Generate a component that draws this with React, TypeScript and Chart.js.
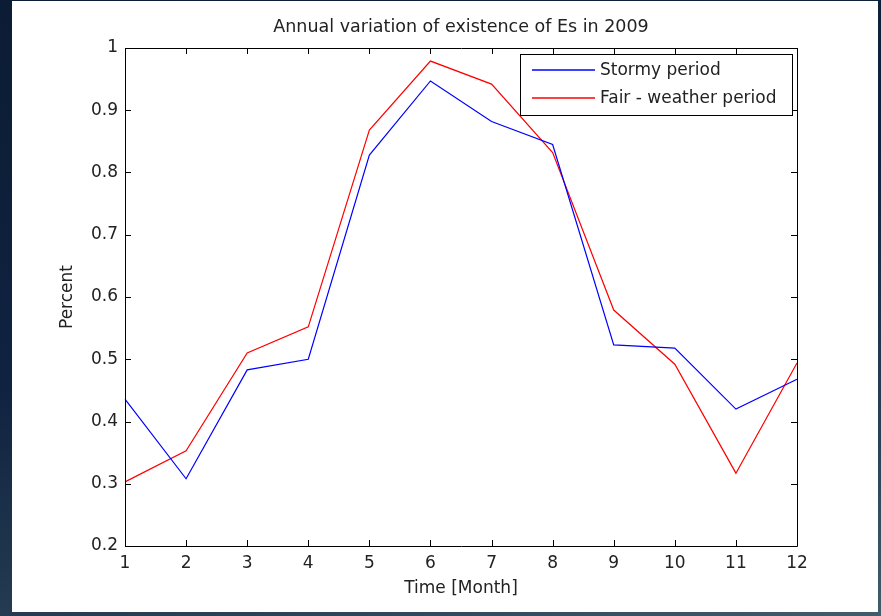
import React, { useEffect, useRef } from "react";
import { Chart, registerables } from "chart.js";

Chart.register(...registerables);

const chartTitle = "Annual variation of existence of Es in 2009";
const xTitle = "Time [Month]";
const yTitle = "Percent";
const months = ["1", "2", "3", "4", "5", "6", "7", "8", "9", "10", "11", "12"];
const stormyLabel = "Stormy period";
const fairLabel = "Fair - weather period";
const stormy = [0.436, 0.308, 0.483, 0.5, 0.828, 0.947, 0.882, 0.845, 0.523, 0.518, 0.42, 0.468];
const fair = [0.303, 0.353, 0.51, 0.552, 0.868, 0.979, 0.942, 0.832, 0.579, 0.492, 0.317, 0.494];
const yMin = 0.2;
const yMax = 1;
const yStep = 0.1;

const STORMY_COLOR = "#0000ff";
const FAIR_COLOR = "#ff0000";
const legendItems = [
  { label: stormyLabel, color: STORMY_COLOR },
  { label: fairLabel, color: FAIR_COLOR },
];

const FONT = "'DejaVu Sans', sans-serif";
const TEXT = "#222";

const framePlugin = {
  id: "matlabFrame",
  afterDatasetsDraw(chart: any) {
    const { ctx, chartArea } = chart;
    const { left, right, top, bottom } = chartArea;
    const xs = chart.scales.x;
    const ys = chart.scales.y;
    const tl = 6;
    ctx.save();
    ctx.strokeStyle = "#000";
    ctx.lineWidth = 1;
    ctx.beginPath();
    ctx.rect(Math.round(left) + 0.5, Math.round(top) + 0.5, Math.round(right - left), Math.round(bottom - top));
    xs.ticks.forEach((t: any, i: number) => {
      const px = Math.round(xs.getPixelForTick(i)) + 0.5;
      ctx.moveTo(px, bottom);
      ctx.lineTo(px, bottom - tl);
      ctx.moveTo(px, top);
      ctx.lineTo(px, top + tl);
    });
    ys.ticks.forEach((t: any) => {
      const py = Math.round(ys.getPixelForValue(t.value)) + 0.5;
      ctx.moveTo(left, py);
      ctx.lineTo(left + tl, py);
      ctx.moveTo(right, py);
      ctx.lineTo(right - tl, py);
    });
    ctx.stroke();

    // legend box (MATLAB style, inside the axes, top right)
    const bw = 272;
    const bh = 61;
    const bx = Math.round(right) - bw - 5;
    const by = Math.round(top) + 6;
    ctx.fillStyle = "#fff";
    ctx.fillRect(bx, by, bw, bh);
    ctx.strokeStyle = "#000";
    ctx.lineWidth = 1;
    ctx.strokeRect(bx + 0.5, by + 0.5, bw, bh);
    ctx.font = "17px " + FONT;
    ctx.textBaseline = "middle";
    ctx.textAlign = "left";
    legendItems.forEach((item, i) => {
      const cy = Math.round(by + 16 + i * 28);
      ctx.beginPath();
      ctx.strokeStyle = item.color;
      ctx.lineWidth = 1.4;
      ctx.moveTo(bx + 12, cy);
      ctx.lineTo(bx + 75, cy);
      ctx.stroke();
      ctx.fillStyle = TEXT;
      ctx.fillText(item.label, bx + 80, cy + 1);
    });
    ctx.restore();
  },
};

export default function App() {
  const ref = useRef<HTMLCanvasElement | null>(null);
  useEffect(() => {
    if (!ref.current) return;
    const chart = new Chart(ref.current, {
      type: "line",
      data: {
        labels: months,
        datasets: [
          { label: stormyLabel, data: stormy, borderColor: STORMY_COLOR, backgroundColor: STORMY_COLOR, borderWidth: 1.2, pointRadius: 0, tension: 0 },
          { label: fairLabel, data: fair, borderColor: FAIR_COLOR, backgroundColor: FAIR_COLOR, borderWidth: 1.2, pointRadius: 0, tension: 0 },
        ],
      },
      options: {
        animation: false,
        responsive: false,
        devicePixelRatio: 1,
        layout: { padding: { left: 0, right: 84, top: 0, bottom: 0 } },
        plugins: {
          legend: { display: false },
          tooltip: { enabled: false },
          title: {
            display: true,
            text: chartTitle,
            fullSize: false,
            color: TEXT,
            font: { family: FONT, size: 17.5, weight: "normal" },
            padding: { top: 17, bottom: 10 },
          },
        },
        scales: {
          x: {
            type: "category",
            offset: false,
            grid: { display: false, drawTicks: false },
            border: { display: false },
            ticks: { color: TEXT, font: { family: FONT, size: 17 }, padding: 7, maxRotation: 0, autoSkip: false },
            title: { display: true, text: xTitle, color: TEXT, font: { family: FONT, size: 17 }, padding: { top: 0, bottom: 17 } },
            afterFit(scale: any) {
              scale.height = 70;
            },
          },
          y: {
            min: yMin,
            max: yMax,
            grid: { display: false, drawTicks: false },
            border: { display: false },
            ticks: {
              stepSize: yStep,
              color: TEXT,
              font: { family: FONT, size: 17 },
              padding: 7,
              callback: (v: any) => String(Number(Number(v).toFixed(1))),
            },
            title: { display: true, text: yTitle, color: TEXT, font: { family: FONT, size: 17 }, padding: { top: 57, bottom: 0 } },
            afterFit(scale: any) {
              scale.width = 125;
            },
          },
        },
      },
      plugins: [framePlugin],
    });
    return () => chart.destroy();
  }, []);

  return (
    <div
      style={{
        position: "absolute",
        left: 0,
        top: 0,
        width: 881,
        height: 616,
        overflow: "hidden",
        background: "linear-gradient(165deg, #0c1c34 0%, #0f2240 45%, #2a4256 80%, #425c6c 100%)",
      }}
    >
      <div style={{ position: "absolute", left: 12, top: 1, width: 866, height: 611, background: "#fff" }} />
      <canvas ref={ref} width={881} height={616} style={{ position: "absolute", left: 0, top: 0, display: "block" }} />
    </div>
  );
}
